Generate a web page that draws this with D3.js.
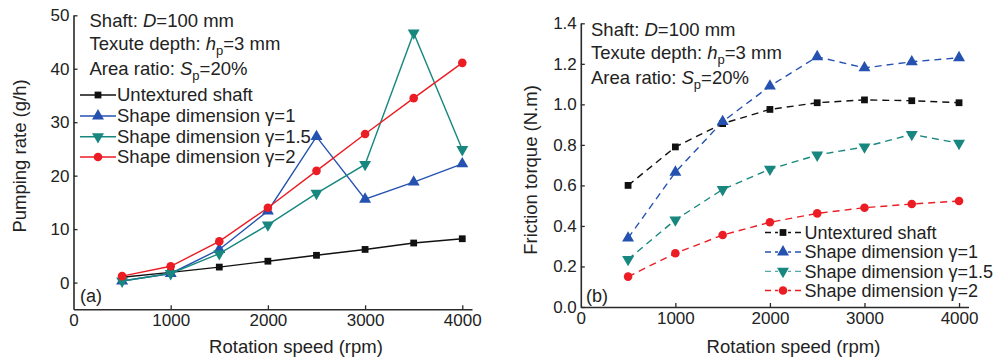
<!DOCTYPE html>
<html><head><meta charset="utf-8">
<script src="https://cdn.jsdelivr.net/npm/d3@7"></script>
<style>
html,body{margin:0;padding:0;background:#fff;}
svg{display:block;font-family:"Liberation Sans",Arial,Helvetica,sans-serif;}
</style></head>
<body><svg id="c" width="998" height="363"></svg>
<script>
const speeds = [500,1000,1500,2000,2500,3000,3500,4000];
const seriesNames = ["Untextured shaft","Shape dimension \u03b3=1","Shape dimension \u03b3=1.5","Shape dimension \u03b3=2"];
// (a) pumping rate, g/h
const pumpUntextured = [1.0,1.9,2.9,4.0,5.1,6.2,7.4,8.2];
const pumpG1 = [0.3,1.7,6.2,13.4,27.3,15.6,18.8,22.2];
const pumpG15 = [0.3,1.7,5.4,10.8,16.7,22.1,46.7,24.9];
const pumpG2 = [1.2,3.05,7.7,14.0,20.9,27.8,34.5,41.1];
// (b) friction torque, N.m
const torqUntextured = [0.60,0.79,0.905,0.975,1.008,1.022,1.018,1.008];
const torqG1 = [0.34,0.665,0.915,1.09,1.235,1.18,1.21,1.23];
const torqG15 = [0.235,0.43,0.58,0.68,0.75,0.79,0.852,0.808];
const torqG2 = [0.15,0.265,0.355,0.418,0.462,0.49,0.508,0.523];
const xTicks = [0,1000,2000,3000,4000];
const yTicksA = [0,10,20,30,40,50];
const yTicksB = [0,0.2,0.4,0.6,0.8,1.0,1.2,1.4];

const colors = ["#111111","#2552b0","#17877f","#ec1c24"];
const shapes = [d3.symbolSquare,d3.symbolTriangle,d3.symbolTriangle,d3.symbolCircle];
const sizes = [46,62,62,58];
const rot = [0,0,180,0];

const svg = d3.select("#c");
const AX = "#2a2a2a";

function panel(cfg){
  const g = svg.append("g");
  const x = d3.scaleLinear().domain([0,4100]).range(cfg.xr);
  const y = d3.scaleLinear().domain(cfg.yd).range(cfg.yr);
  const xa = g.append("g").attr("transform",`translate(0,${cfg.yr[0]})`)
    .call(d3.axisBottom(x).tickValues(xTicks).tickSizeInner(-4).tickSizeOuter(0).tickPadding(8).tickFormat(d3.format("d")));
  const ya = g.append("g").attr("transform",`translate(${cfg.xr[0]},0)`)
    .call(d3.axisLeft(y).tickValues(cfg.yTicks).tickSizeInner(-4).tickSizeOuter(0).tickPadding(5).tickFormat(cfg.yfmt));
  [xa,ya].forEach(a=>{
    a.select(".domain").attr("stroke",AX).attr("stroke-width",1.6);
    a.selectAll(".tick line").attr("stroke",AX).attr("stroke-width",1.3);
    a.selectAll(".tick text").attr("fill","#222").style("font-size","17px");
  });
  xa.selectAll(".tick text").attr("dy","0.5em");
  xa.selectAll(".tick").filter(d=>d===0).select("line").remove();
  ya.selectAll(".tick text").attr("dx","1px");

  g.append("text").attr("x",cfg.xTitle[0]).attr("y",cfg.xTitle[1]).attr("text-anchor","middle")
    .style("font-size","18.5px").attr("fill","#222").text("Rotation speed (rpm)");
  g.append("text").attr("transform",`translate(${cfg.yTitle[0]},${cfg.yTitle[1]}) rotate(-90)`).attr("text-anchor","middle")
    .style("font-size","18.5px").attr("fill","#222").text(cfg.yLabel);
  g.append("text").attr("x",cfg.tag[0]).attr("y",cfg.tag[1]).style("font-size","18px").attr("fill","#222").text(cfg.tagText);

  const ann = g.append("g").attr("fill","#222").style("font-size","18.5px");
  const t1 = ann.append("text").attr("x",cfg.annX).attr("y",cfg.annY[0]);
  t1.append("tspan").text("Shaft: ");
  t1.append("tspan").style("font-style","italic").text("D");
  t1.append("tspan").text("=100 mm");
  const t2 = ann.append("text").attr("x",cfg.annX).attr("y",cfg.annY[1]);
  t2.append("tspan").text("Texute depth: ");
  t2.append("tspan").style("font-style","italic").text("h");
  t2.append("tspan").attr("dy",5).style("font-size","13px").text("p");
  t2.append("tspan").attr("dy",-5).text("=3 mm");
  const t3 = ann.append("text").attr("x",cfg.annX).attr("y",cfg.annY[2]);
  t3.append("tspan").text("Area ratio: ");
  t3.append("tspan").style("font-style","italic").text("S");
  t3.append("tspan").attr("dy",5).style("font-size","13px").text("p");
  t3.append("tspan").attr("dy",-5).text("=20%");

  const line = d3.line().x((d,i)=>x(speeds[i])).y(d=>y(d));
  cfg.data.forEach((arr,k)=>{
    g.append("path").datum(arr).attr("d",line).attr("fill","none")
      .attr("stroke",colors[k]).attr("stroke-width",1.4)
      .attr("stroke-dasharray",cfg.dash?"7,5":null);
  });
  cfg.data.forEach((arr,k)=>{
    g.selectAll(null).data(arr).join("path")
      .attr("d",d3.symbol().type(shapes[k]).size(sizes[k]))
      .attr("transform",(d,i)=>`translate(${x(speeds[i])},${y(d)}) rotate(${rot[k]})`)
      .attr("fill",colors[k]);
  });

  const lg = g.append("g");
  seriesNames.forEach((name,k)=>{
    const yy = cfg.leg.y[k];
    lg.append("line").attr("x1",cfg.leg.x1).attr("x2",cfg.leg.x2).attr("y1",yy).attr("y2",yy)
      .attr("stroke",colors[k]).attr("stroke-width",cfg.dash&&k===2?0.9:1.4)
      .attr("stroke-dasharray",cfg.dash?"6,4":null);
    if(cfg.dash){
      lg.append("rect").attr("x",(cfg.leg.x1+cfg.leg.x2)/2-5).attr("y",yy-4).attr("width",10).attr("height",8).attr("fill","#fff");
    }
    lg.append("path").attr("d",d3.symbol().type(shapes[k]).size(sizes[k]))
      .attr("transform",`translate(${(cfg.leg.x1+cfg.leg.x2)/2},${yy}) rotate(${rot[k]})`).attr("fill",colors[k]);
    lg.append("text").attr("x",cfg.leg.tx).attr("y",yy+6.3).style("font-size",cfg.leg.fs).attr("fill","#222").text(name);
  });
}

panel({
  xr:[73.5,472], yd:[-5,50], yr:[309.3,15.3], yTicks:yTicksA, yfmt:d3.format("d"),
  xTitle:[296,353], yTitle:[26,156], yLabel:"Pumping rate (g/h)", tag:[80,302], tagText:"(a)",
  annX:89.5, annY:[26.8,49.8,75],
  data:[pumpUntextured,pumpG1,pumpG15,pumpG2], dash:false,
  leg:{x1:80,x2:116,tx:117,y:[95,116,136.7,157],fs:"18.5px"}
});
panel({
  xr:[580.8,968.5], yd:[0,1.4], yr:[307,23.3], yTicks:yTicksB, yfmt:d3.format(".1f"),
  xTitle:[793.5,353], yTitle:[537,170], yLabel:"Friction torque (N.m)", tag:[586,302], tagText:"(b)",
  annX:591, annY:[36,59,84.3],
  data:[torqUntextured,torqG1,torqG15,torqG2], dash:true,
  leg:{x1:765,x2:801,tx:804.5,y:[232.5,252,271.3,290.5],fs:"18px"}
});
</script></body></html>
